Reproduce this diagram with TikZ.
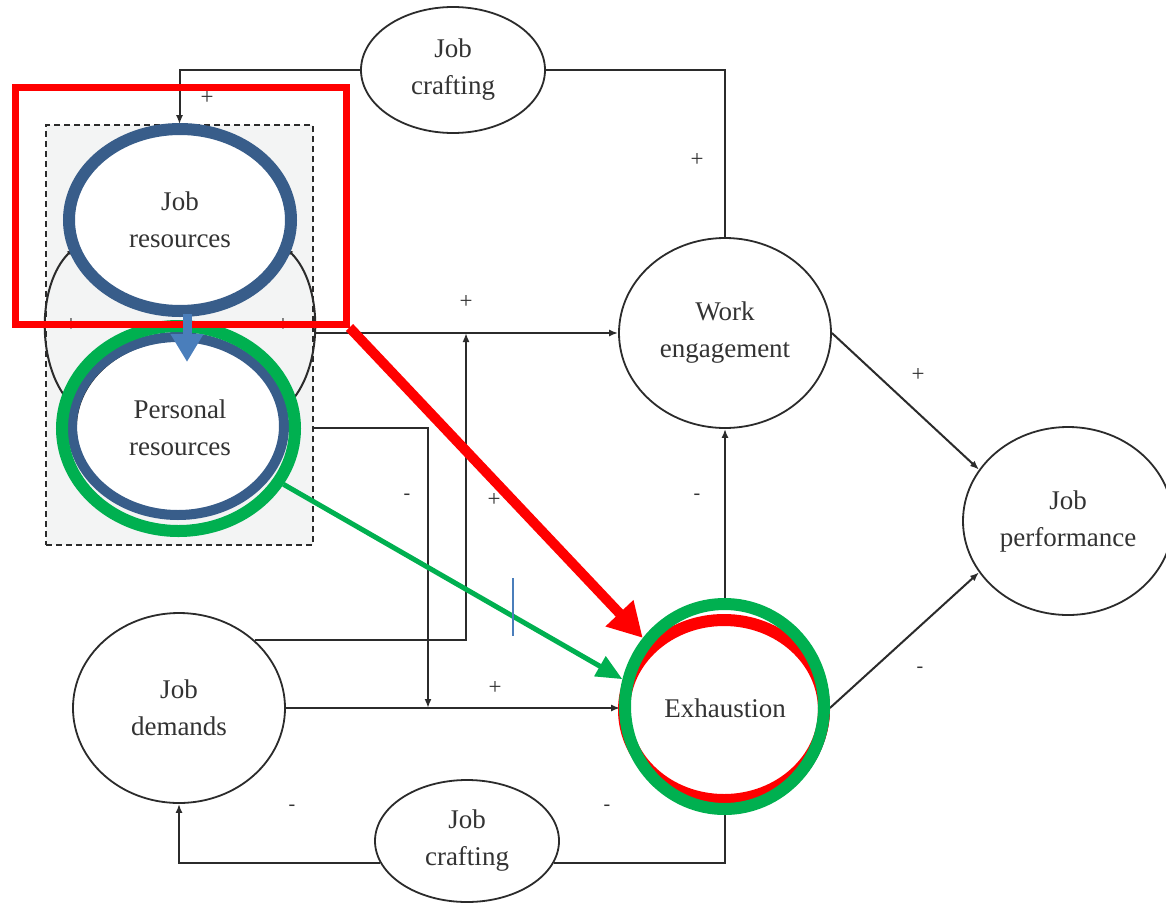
\documentclass[tikz,border=0pt]{standalone}
\usepackage{fontspec}
\setmainfont{Liberation Serif}
\usetikzlibrary{arrows.meta,shapes.geometric}
\definecolor{ink}{HTML}{333333}
\definecolor{lin}{HTML}{2B2B2B}
\definecolor{ovblue}{HTML}{385D8A}
\definecolor{arblue}{HTML}{4A7EBB}
\definecolor{ovgreen}{HTML}{00B050}
\definecolor{ovred}{HTML}{FF0000}
\definecolor{boxfill}{HTML}{F3F4F4}
\begin{document}
\begin{tikzpicture}[x=1pt,y=-1pt,
  bub/.style={ellipse, draw=lin, line width=1.8pt, fill=white, inner sep=0pt, align=center, text=ink, font=\fontsize{27}{37}\selectfont},
  ring/.style={ellipse, inner sep=0pt, fill=none},
  ln/.style={draw=lin, line width=2pt},
  arr/.style={ln, -{Latex[length=9pt,width=7pt]}},
  sgn/.style={text=ink, font=\fontsize{23}{23}\selectfont, inner sep=0pt},
  dsh/.style={text=ink, font=\fontsize{20}{20}\selectfont, inner sep=0pt},
  ]
\useasboundingbox[fill=white] (0,0) rectangle (1166,902);

% dashed box
\node[draw=lin, dash pattern=on 6pt off 4pt, line width=1.6pt, fill=boxfill, minimum width=267, minimum height=420, inner sep=0pt] (box) at (179.5,335) {};

% nodes
\node[bub, minimum width=184, minimum height=126] (jc1) at (453,70) {Job\\crafting};
\node[bub, minimum width=184, minimum height=122] (jc2) at (467,841) {Job\\crafting};
\node[bub, minimum width=212, minimum height=190] (we) at (725,333) {Work\\engagement};
\node[bub, minimum width=210, minimum height=188] (jp) at (1068,521) {Job\\performance};
\node[bub, minimum width=212, minimum height=190] (jd) at (179,708) {Job\\demands};
\node[bub, minimum width=208, minimum height=208] (ex) at (725,708) {Exhaustion};
\node[bub, minimum width=222, minimum height=182] (jr) at (180,220) {Job\\resources};
\node[bub, minimum width=208, minimum height=176] (pr) at (180,428) {Personal\\resources};

% curved links between resources
\draw[ln, {Latex[length=7pt,width=5pt]}-{Latex[length=7pt,width=5pt]}] (jr.195) .. controls (36,285) and (36,370) .. (pr.170);
\draw[ln, {Latex[length=7pt,width=5pt]}-{Latex[length=7pt,width=5pt]}] (jr.-15) .. controls (324,285) and (324,370) .. (pr.10);

% connectors
\coordinate (m1) at (466,333);
\coordinate (b2) at (313,428);
\coordinate (m2) at (428,708);
\draw[arr] (jc1.west) -| (box.north);
\draw[ln] (we.north) |- (jc1.east);
\draw[arr] (box.east |- we.west) -- (we.west);
\draw[arr] (jd.north east) -| (m1);
\draw[arr] (b2) -| (m2);
\draw[arr] (jd.east) -- (ex.west);
\draw[arr] (ex.north) -- (we.south);
\draw[arr] (we.east) -- (jp.150);
\draw[arr] (ex.east) -- (jp.210);
\draw[ln] (ex.south) |- (jc2.-14);
\draw[arr] (jc2.194) -| (jd.south);

% signs
\node[sgn] (s1) at (207,98) {+};
\node[sgn] (s2) at (697,160) {+};
\node[sgn] (s3) at (466,302) {+};
\node[sgn] (s4) at (494,500) {+};
\node[dsh] (s5) at (407,497) {-};
\node[dsh] (s6) at (697,497) {-};
\node[sgn] (s7) at (495,688) {+};
\node[sgn] (s8) at (918,375) {+};
\node[dsh] (s9) at (920,670) {-};
\node[dsh] (s10) at (292,808) {-};
\node[dsh] (s11) at (607,808) {-};
\node[sgn] (s12) at (71,325) {+};
\node[sgn] (s13) at (283,325) {+};

% overlays
\node[ring, draw=ovred, line width=12pt, minimum width=200, minimum height=180] (exred) at (724,710) {};
\node[ring, draw=ovgreen, line width=12pt, minimum width=199, minimum height=205] (exgreen) at (724.5,706.5) {};
\node[ring, draw=ovblue, line width=12pt, minimum width=222, minimum height=182] (jrblue) at (180,220) {};
\node[ring, draw=ovblue, line width=10pt, minimum width=212, minimum height=178] (prblue) at (178,426) {};
\node[ring, draw=ovgreen, line width=12pt, minimum width=233, minimum height=205] (prgreen) at (178.5,428.5) {};
\node[draw=ovred, line width=7pt, minimum width=331, minimum height=237, inner sep=0pt] (redbox) at (180.5,205.5) {};

\coordinate (btop) at (187,314);
\coordinate (btip) at (187,362);
\draw[arblue, line width=9pt, -{Triangle[length=28pt,width=31pt]}] (btop) -- (btip);

\draw[ovred, line width=10pt, -{Triangle[length=34pt,width=36pt]}] (redbox.south east) -- (exgreen.140);
\draw[ovgreen, line width=5pt, -{Triangle[length=26pt,width=22pt]}] (prgreen.-28) -- (exgreen.165);

\coordinate (bl1) at (513,578);
\coordinate (bl2) at (513,636);
\draw[arblue, line width=1.2pt] (bl1) -- (bl2);
\end{tikzpicture}
\end{document}
